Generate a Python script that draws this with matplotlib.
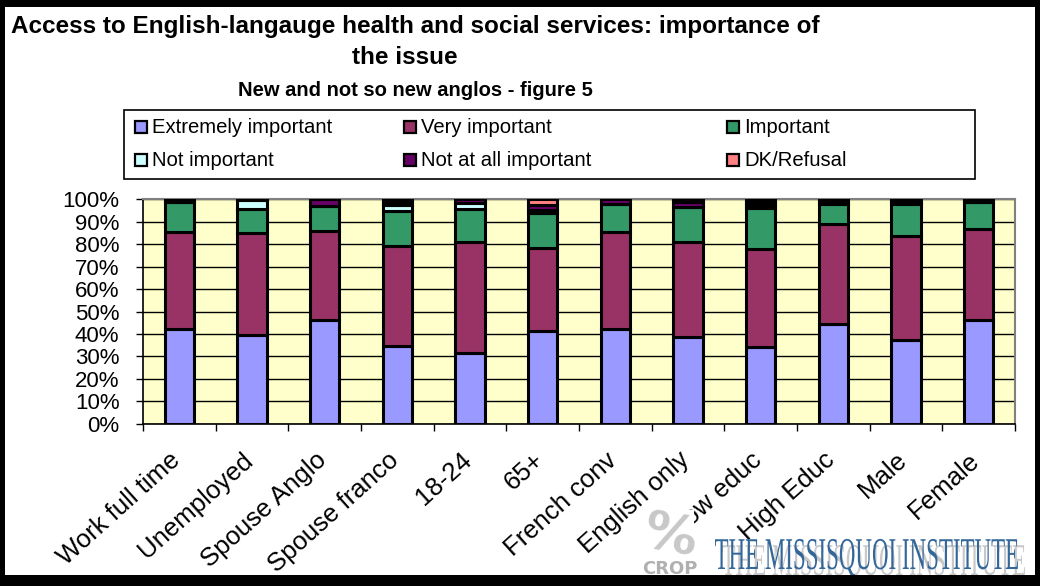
import numpy as np
import matplotlib
matplotlib.use("Agg")
import matplotlib.pyplot as plt
from matplotlib.patches import Rectangle, PathPatch
from matplotlib.textpath import TextPath
from matplotlib.font_manager import FontProperties
from matplotlib.transforms import Affine2D, IdentityTransform, ScaledTranslation
from matplotlib.ticker import FixedLocator, FuncFormatter

# ---- data (percent of respondents) ----
categories = ["Work full time", "Unemployed", "Spouse Anglo", "Spouse franco",
              "18-24", "65+", "French conv", "English only", "Low educ",
              "High Educ", "Male", "Female"]
series_names = ["Extremely important", "Very important", "Important",
                "Not important", "Not at all important", "DK/Refusal"]
extremely_important = [42.4, 39.7, 46.1, 34.5, 31.5, 41.4, 42.0, 38.7, 34.2, 44.6, 37.5, 46.1]
very_important      = [43.2, 45.1, 39.9, 44.7, 49.3, 36.7, 43.6, 42.1, 43.5, 44.2, 46.3, 40.8]
important           = [13.0, 10.9, 11.0, 15.7, 14.9, 15.6, 12.2, 15.9, 18.3, 9.1, 14.1, 11.8]
not_important       = [0.0, 4.0, 0.0, 2.5, 2.5, 1.5, 0.0, 0.0, 1.3, 1.4, 1.4, 0.0]
not_at_all          = [1.4, 0.3, 3.0, 1.2, 1.8, 2.3, 2.2, 2.0, 1.5, 0.7, 0.7, 1.3]
dk_refusal          = [0.0, 0.0, 0.0, 1.4, 0.0, 2.5, 0.0, 1.3, 1.2, 0.0, 0.0, 0.0]
y_ticks = [0, 10, 20, 30, 40, 50, 60, 70, 80, 90, 100]

series = [extremely_important, very_important, important,
          not_important, not_at_all, dk_refusal]
colors = ["#9999FF", "#993366", "#339966", "#CCFFFF", "#660066", "#FF8080"]

W, H = 1040, 586
fig = plt.figure(figsize=(W / 100, H / 100), dpi=100)
fig.patch.set_facecolor("white")

def fx(px):
    return px / W

def fy(py):
    return 1 - py / H

# ---- plot area ----
left, right, top, bottom = 143, 1015, 199.3, 423.7
ax = fig.add_axes([fx(left), fy(bottom), fx(right - left), (bottom - top) / H])
ax.set_facecolor("#FFFFCC")

x = np.arange(len(categories))
base = np.zeros(len(categories))
for vals, col, name in zip(series, colors, series_names):
    v = np.array(vals)
    ax.bar(x, v, bottom=base, width=0.4, color=col, edgecolor="black",
           linewidth=2.2, label=name, zorder=3)
    base += v

ax.set_xlim(-0.5, len(categories) - 0.5)
ax.set_ylim(0, 100)
ax.yaxis.set_major_locator(FixedLocator(y_ticks))
ax.yaxis.set_major_formatter(FuncFormatter(lambda v, p: f"{v:.0f}%"))
ax.grid(axis="y", color="black", linewidth=1.0, zorder=1)
ax.set_axisbelow(True)

ax.set_xticks(x)
ax.set_xticklabels(categories, rotation=42, ha="right", va="center",
                   rotation_mode="anchor", fontsize=18.5,
                   family="Liberation Sans")
ax.set_xticks(np.arange(-0.5, len(categories)), minor=True)
ax.tick_params(axis="x", which="major", length=0, pad=0)
ax.tick_params(axis="x", which="minor", length=5, width=1, direction="out")
shift = ScaledTranslation(-2 / 100, -33 / 100, fig.dpi_scale_trans)
for lab in ax.get_xticklabels():
    lab.set_transform(lab.get_transform() + shift)
ax.tick_params(axis="y", length=5, width=1, direction="out", pad=12,
               labelsize=16)
for lab in ax.get_yticklabels():
    lab.set_family("Liberation Sans")

for s in ["top", "right"]:
    ax.spines[s].set_color("#808080")
    ax.spines[s].set_linewidth(1.5)
for s in ["left", "bottom"]:
    ax.spines[s].set_color("black")
    ax.spines[s].set_linewidth(1.2)

# ---- titles ----
fig.text(fx(415), fy(33), "Access to English-langauge health and social services: importance of",
         ha="center", va="baseline", fontsize=17.5, fontweight="bold",
         family="Liberation Sans")
fig.text(fx(405), fy(64), "the issue", ha="center", va="baseline",
         fontsize=17.5, fontweight="bold", family="Liberation Sans")
fig.text(fx(415), fy(96), "New and not so new anglos - figure 5",
         ha="center", va="baseline", fontsize=14.5, fontweight="bold",
         family="Liberation Sans")

# ---- legend box ----
fig.patches.append(Rectangle((fx(124), fy(179)), fx(975 - 124), (179 - 110) / H,
                             transform=fig.transFigure, facecolor="white",
                             edgecolor="black", linewidth=1.2, zorder=1))
col_x = [135, 404, 727]
row_y = [133, 166]
for i, (name, col) in enumerate(zip(series_names, colors)):
    r, c = divmod(i, 3)
    mx, by = col_x[c], row_y[r]
    fig.patches.append(Rectangle((fx(mx), fy(by)), fx(12), 12 / H,
                                 transform=fig.transFigure, facecolor=col,
                                 edgecolor="black", linewidth=1.6, zorder=2))
    fig.text(fx(mx + 17), fy(by), name, ha="left", va="baseline",
             fontsize=14.6, family="Liberation Sans", zorder=3)

# ---- logos ----
fig.patches.append(Rectangle((fx(644), fy(560)), fx(50), 50 / H,
                             transform=fig.transFigure, facecolor="white",
                             edgecolor="none", zorder=4))
fig.text(fx(670), fy(556), "%", ha="center", va="baseline", fontsize=38,
         fontweight="bold", color="#c8c8c8", family="DejaVu Sans",
         rotation=-10, zorder=5)
fig.text(fx(670), fy(574), "CROP", ha="center", va="baseline", fontsize=13,
         fontweight="bold", color="#b0b0b0", family="DejaVu Sans", zorder=5)

serif = FontProperties(family="Liberation Serif")
tp = TextPath((0, 0), "THE MISSISQUOI INSTITUTE", size=1, prop=serif)
ext = tp.get_extents()
sx = 303 / ext.width
sy = 30 / 0.66
ghost = Affine2D().scale(sx, sy).translate(722 - ext.x0 * sx, H - 572 - 3)
fig.patches.append(PathPatch(tp, transform=ghost + IdentityTransform(),
                             facecolor="#c8c8c8", edgecolor="none", zorder=5))
main = Affine2D().scale(sx, sy).translate(715 - ext.x0 * sx, H - 569)
fig.patches.append(PathPatch(tp, transform=main + IdentityTransform(),
                             facecolor="#336699", edgecolor="none", zorder=6))

# ---- outer frame ----
frame = dict(transform=fig.transFigure, facecolor="black", edgecolor="none",
             zorder=10)
fig.patches.append(Rectangle((0, fy(7)), 1, 7 / H, **frame))
fig.patches.append(Rectangle((0, 0), 1, 11 / H, **frame))
fig.patches.append(Rectangle((0, 0), fx(5), 1, **frame))
fig.patches.append(Rectangle((fx(1035), 0), fx(5), 1, **frame))

fig.savefig("out.png", dpi=100)
